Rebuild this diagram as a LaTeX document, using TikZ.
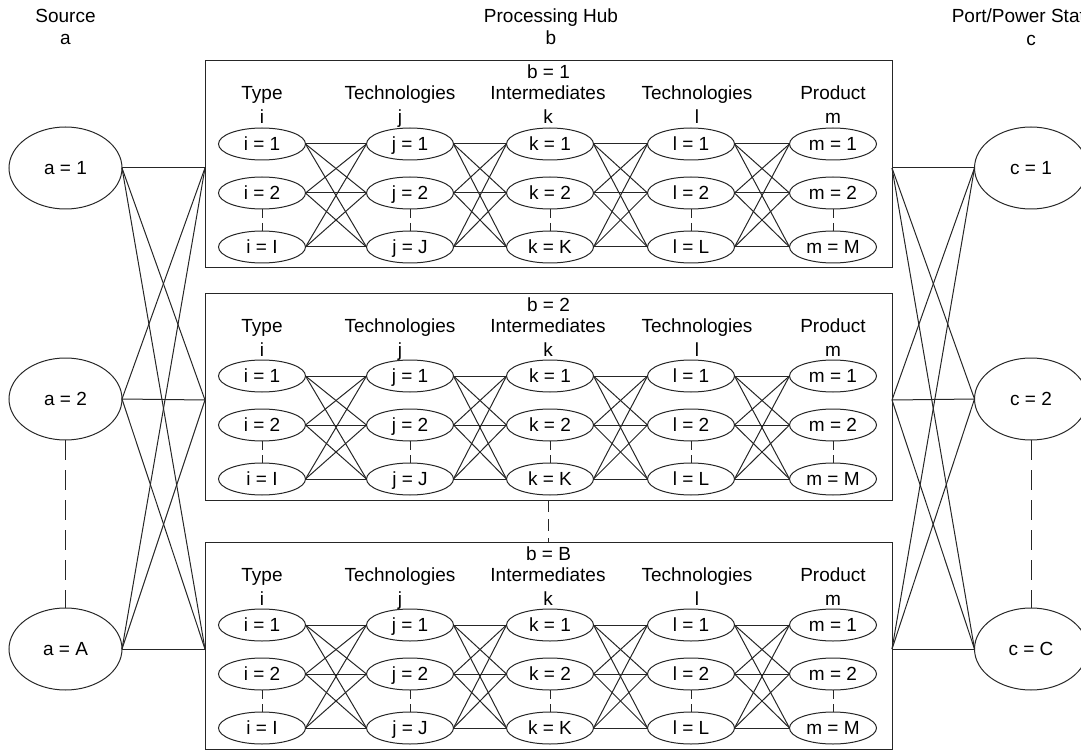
\documentclass[tikz,border=0pt]{standalone}
\usepackage{fontspec}
\setmainfont{Liberation Sans}
\usetikzlibrary{shapes.geometric}

\begin{document}
\begin{tikzpicture}[x=1pt, y=-1pt, line width=1pt, draw=black!85,
  every node/.style={font=\fontsize{19}{22}\selectfont},
  site/.style={draw, ellipse, minimum width=113pt, minimum height=82pt, inner sep=0pt, outer sep=0pt, text height=13.6pt, text depth=0pt},
  unit/.style={draw, ellipse, minimum width=87pt, minimum height=32pt, inner sep=0pt, outer sep=0pt, text height=13.6pt, text depth=0pt},
  hub/.style={draw, anchor=north west, minimum width=687pt, minimum height=207pt, inner sep=0pt, outer sep=0pt},
  rowdash/.style={dash pattern=on 9pt off 5pt},
  gapdash/.style={dash pattern=on 12pt off 7pt},
  sitedash/.style={dash pattern=on 20pt off 10pt}]
\useasboundingbox (0,0) rectangle (1081,751);
\clip (0,0) rectangle (1081,751);
% Titles
\node[anchor=base] (srctitle) at (65.5,23) {Source};
\node[anchor=base] (srcidx) at (65.5,45) {a};
\node[anchor=base] (hubtitle) at (551,23) {Processing Hub};
\node[anchor=base] (hubidx) at (551,45) {b};
\node[anchor=base] (porttitle) at (1031,23) {Port/Power Station};
\node[anchor=base] (portidx) at (1031,46) {c};
% Sources and ports
\node[site] (a1) at (65.5,168) {a = 1};
\node[site] (a2) at (65.5,399) {a = 2};
\node[site] (a3) at (65.5,649) {a = A};
\node[site] (c1) at (1031,168) {c = 1};
\node[site] (c2) at (1031,399) {c = 2};
\node[site] (c3) at (1031,649) {c = C};
\draw[sitedash] (a2.south) -- (a3.north);
\draw[sitedash] (c2.south) -- (c3.north);
% Processing hubs
\foreach \b/\ty/\lab in {1/61/1, 2/293/2, 3/542/B} {
  \node[hub] (box\b) at (205,\ty) {};
  \node[anchor=base] (hublab\b) at (548.5,\ty+18) {b = \lab};
  \coordinate (in\b) at (205,\ty+107);
  \coordinate (out\b) at (892,\ty+107);
  % column headers
  \foreach \head/\col/\hx in {Type/i/262, Technologies/j/400, Intermediates/k/548, Technologies/l/697, Product/m/833} {
    \node[anchor=base] (head\b\col) at (\hx,\ty+39) {\head};
    \node[anchor=base] (idx\b\col) at (\hx,\ty+63) {\col};
  }
  % columns
  \foreach \col/\cx/\last in {i/262/I, j/410/J, k/550/K, l/691/L, m/833/M} {
    \node[unit] (b\b\col1) at (\cx,\ty+83) {\col{} = 1};
    \node[unit] (b\b\col2) at (\cx,\ty+132) {\col{} = 2};
    \node[unit] (b\b\col3) at (\cx,\ty+186) {\col{} = \last};
    \draw[rowdash] (b\b\col2.south) -- (b\b\col3.north);
  }
  % links between columns
  \foreach \p/\q in {i/j, j/k, k/l, l/m}
    \foreach \r in {1,2,3}
      \foreach \s in {1,2,3}
        \draw (b\b\p\r.east) -- (b\b\q\s.west);
}
\draw[gapdash] (box2.south) -- (box3.north);
% Source to hub, hub to port
\foreach \s in {1,2,3}
  \foreach \b in {1,2,3} {
    \draw (a\s.east) -- (in\b);
    \draw (out\b) -- (c\s.west);
  }
\end{tikzpicture}
\end{document}
